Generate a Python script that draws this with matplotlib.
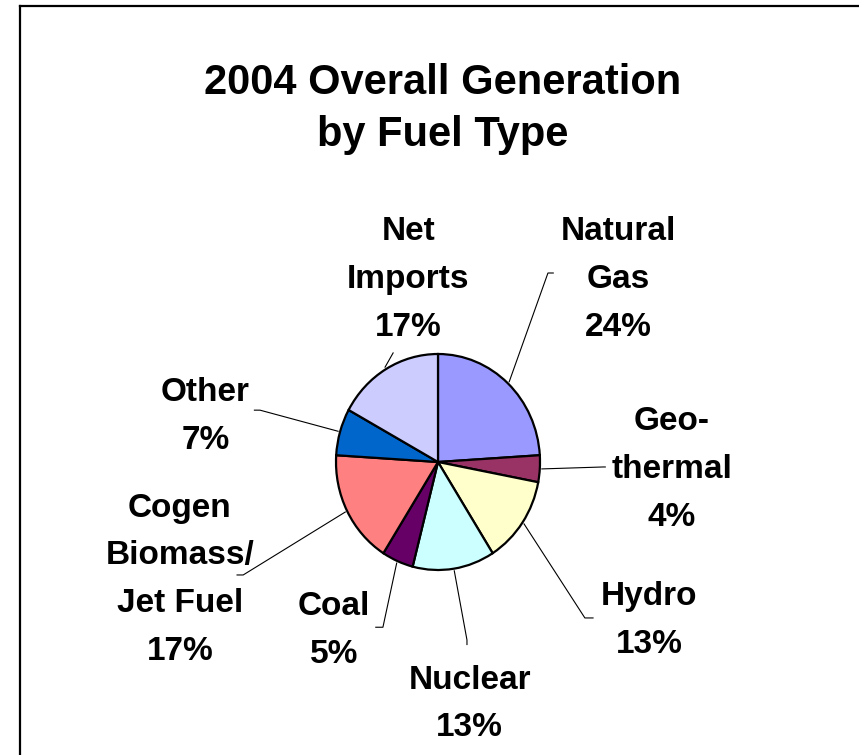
import numpy as np
import matplotlib
matplotlib.use("Agg")
import matplotlib.pyplot as plt
from matplotlib.lines import Line2D

plt.rcParams['font.family'] = ['Liberation Sans', 'DejaVu Sans']

fuels = ['Natural\nGas', 'Geo-\nthermal', 'Hydro', 'Nuclear', 'Coal',
         'Cogen\nBiomass/\nJet Fuel', 'Other', 'Net\nImports']
shares = [24, 4, 13, 13, 5, 17, 7, 17]
colors = ['#9999FF', '#993366', '#FFFFCC', '#CCFFFF', '#660066',
          '#FF8080', '#0066CC', '#CCCCFF']

# label centre and leader elbow/hook, in pie-radius units
label_pos = [(1.77, 1.71), (2.29, -0.05), (2.07, -1.45), (0.31, -2.22),
             (-1.02, -1.54), (-2.53, -1.07), (-2.28, 0.44), (-0.29, 1.71)]
elbows = [[(1.078, 1.75), (1.13, 1.75)],
          [(1.62, -0.046), (1.64, -0.046)],
          [(1.44, -1.444), (1.52, -1.444)],
          [(0.284, -1.648), (0.284, -1.69)],
          [(-0.54, -1.53), (-0.61, -1.53)],
          [(-1.91, -1.046), (-1.97, -1.046)],
          [(-1.745, 0.48), (-1.80, 0.48)],
          [(-0.44, 1.01), (-0.44, 1.01)]]

fig = plt.figure(figsize=(8.59, 7.55), dpi=100)
ax = fig.add_axes([0, 0, 1, 1])

wedges, _ = ax.pie(shares, colors=colors, startangle=90, counterclock=False,
                   wedgeprops=dict(edgecolor='black', linewidth=1.6))

# pixel mapping: centre (438, 462), radius 102 x 108 px
ax.set_aspect('auto')
ax.set_xlim(-438 / 102, 421 / 102)
ax.set_ylim(-(755 - 462) / 108, 462 / 108)
ax.axis('off')

for w, lab, val, pos, elb in zip(wedges, fuels, shares, label_pos, elbows):
    mid = np.deg2rad((w.theta1 + w.theta2) / 2)
    start = (1.02 * np.cos(mid), 1.02 * np.sin(mid))
    xs = [start[0]] + [p[0] for p in elb]
    ys = [start[1]] + [p[1] for p in elb]
    ax.plot(xs, ys, color='black', lw=0.8)
    ax.text(pos[0], pos[1] - 0.02, lab + '\n' + str(val) + '%', ha='center', va='center',
            multialignment='center', fontsize=24, fontweight='bold', linespacing=1.7)

fig.text(443 / 859, 1 - 109 / 755, '2004 Overall Generation\nby Fuel Type',
         ha='center', va='center', fontsize=30, fontweight='bold', linespacing=1.38)

# chart frame (top and left edges only visible)
fig.add_artist(Line2D([20 / 859, 1], [1 - 6 / 755, 1 - 6 / 755], color='black', lw=1.6))
fig.add_artist(Line2D([20 / 859, 20 / 859], [0, 1 - 6 / 755], color='black', lw=1.6))

fig.savefig('out.png', dpi=100)
